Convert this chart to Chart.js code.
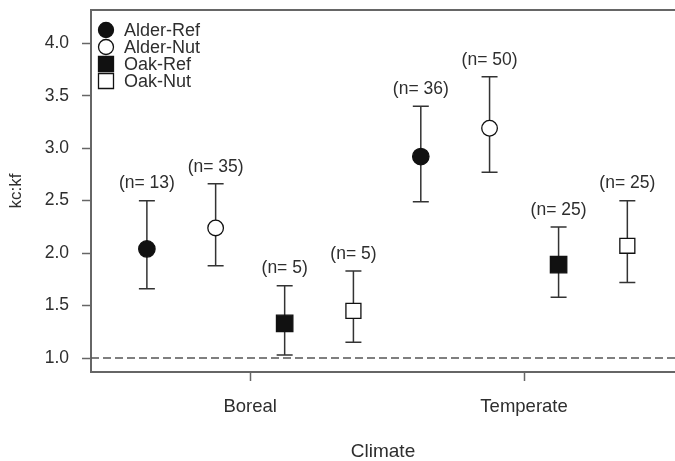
<!DOCTYPE html>
<html>
<head>
<meta charset="utf-8">
<script src="https://cdn.jsdelivr.net/npm/chart.js@4/dist/chart.umd.min.js"></script>
<style>
  html, body { margin: 0; padding: 0; background: #fff; }
  #wrap { width: 675px; height: 461px; }
</style>
</head>
<body>
<div id="wrap"><canvas id="chart"></canvas></div>
<script>
// climate groups on the x axis
const categories = ["Boreal", "Temperate"];
const seriesNames = ["Alder-Ref", "Alder-Nut", "Oak-Ref", "Oak-Nut"];

// mean kc:kf per climate
const alderRefMean = [2.04, 2.92];
const alderNutMean = [2.24, 3.19];
const oakRefMean = [1.33, 1.89];
const oakNutMean = [1.45, 2.07];

// upper / lower whisker ends
const alderRefHigh = [2.50, 3.40];
const alderNutHigh = [2.66, 3.68];
const oakRefHigh = [1.69, 2.25];
const oakNutHigh = [1.83, 2.50];

const alderRefLow = [1.66, 2.49];
const alderNutLow = [1.88, 2.77];
const oakRefLow = [1.03, 1.58];
const oakNutLow = [1.15, 1.72];

// sample sizes
const alderRefN = [13, 36];
const alderNutN = [35, 50];
const oakRefN = [5, 25];
const oakNutN = [5, 25];

const yTicks = [1.0, 1.5, 2.0, 2.5, 3.0, 3.5, 4.0];
const refLine = 1.0;

const means = [alderRefMean, alderNutMean, oakRefMean, oakNutMean];
const highs = [alderRefHigh, alderNutHigh, oakRefHigh, oakNutHigh];
const lows = [alderRefLow, alderNutLow, oakRefLow, oakNutLow];
const counts = [alderRefN, alderNutN, oakRefN, oakNutN];

// styling
const dodge = [-0.377, -0.126, 0.126, 0.377];
const shapes = ["circle", "circle", "rect", "rect"];
const fills = ["#111", "#fff", "#111", "#fff"];
const radii = [8.2, 7.8, 11.6, 10.6];
const ink = "#2e2e2e";
const axisGrey = "#666";
const font = "Liberation Sans, Arial, sans-serif";

const datasets = seriesNames.map((name, s) => ({
  label: name,
  data: categories.map((c, i) => ({ x: i + 1 + dodge[s], y: means[s][i] })),
  pointStyle: shapes[s],
  pointRadius: radii[s],
  pointHoverRadius: radii[s],
  backgroundColor: fills[s],
  borderColor: "#111",
  pointBorderWidth: 1.3,
  showLine: false,
}));

const errorBars = {
  id: "errorBars",
  beforeDatasetsDraw(chart) {
    const { ctx, scales: { x, y }, chartArea } = chart;
    ctx.save();
    // reference line
    ctx.strokeStyle = "#555";
    ctx.lineWidth = 1.5;
    ctx.setLineDash([8, 4]);
    ctx.beginPath();
    ctx.moveTo(chartArea.left, y.getPixelForValue(refLine));
    ctx.lineTo(chartArea.right, y.getPixelForValue(refLine));
    ctx.stroke();
    ctx.setLineDash([]);

    ctx.strokeStyle = "#333";
    ctx.lineWidth = 1.5;
    ctx.fillStyle = ink;
    ctx.font = "17.5px " + font;
    ctx.textAlign = "center";
    ctx.textBaseline = "middle";
    seriesNames.forEach((name, s) => {
      categories.forEach((c, i) => {
        const px = x.getPixelForValue(i + 1 + dodge[s]);
        const top = y.getPixelForValue(highs[s][i]);
        const bot = y.getPixelForValue(lows[s][i]);
        ctx.beginPath();
        ctx.moveTo(px, top); ctx.lineTo(px, bot);
        ctx.moveTo(px - 8, top); ctx.lineTo(px + 8, top);
        ctx.moveTo(px - 8, bot); ctx.lineTo(px + 8, bot);
        ctx.stroke();
        ctx.fillText("(n= " + counts[s][i] + ")", px, top - 17);
      });
    });
    ctx.restore();
  },
  afterDraw(chart) {
    const { ctx, chartArea } = chart;
    ctx.save();
    // top border of the box
    ctx.strokeStyle = axisGrey;
    ctx.lineWidth = 2;
    ctx.beginPath();
    ctx.moveTo(chartArea.left, chartArea.top);
    ctx.lineTo(chartArea.right, chartArea.top);
    ctx.stroke();
    // legend inside the plot
    ctx.font = "18px " + font;
    ctx.textAlign = "left";
    ctx.textBaseline = "middle";
    seriesNames.forEach((name, s) => {
      const ly = 30 + s * 17;
      const lx = 106;
      ctx.fillStyle = fills[s];
      ctx.strokeStyle = "#111";
      ctx.lineWidth = 1.3;
      ctx.beginPath();
      if (shapes[s] === "circle") {
        ctx.arc(lx, ly, 7.5, 0, Math.PI * 2);
      } else {
        ctx.rect(lx - 7.5, ly - 7.5, 15, 15);
      }
      ctx.fill();
      ctx.stroke();
      ctx.fillStyle = ink;
      ctx.fillText(name, 124, ly + 1);
    });
    ctx.restore();
  },
};

new Chart(document.getElementById("chart"), {
  type: "scatter",
  data: { datasets },
  options: {
    responsive: true,
    maintainAspectRatio: false,
    animation: false,
    layout: { autoPadding: false, padding: { top: 10, right: 0, left: 0, bottom: 0 } },
    plugins: { legend: { display: false }, tooltip: { enabled: false } },
    scales: {
      x: {
        type: "linear",
        min: 0.419,
        max: 2.551,
        afterBuildTicks: (axis) => { axis.ticks = categories.map((c, i) => ({ value: i + 1 })); },
        afterFit: (axis) => { axis.height = 89; axis.paddingLeft = 0; axis.paddingRight = 0; },
        ticks: {
          callback: (v) => categories[v - 1],
          color: ink,
          font: { family: font, size: 18.5 },
          padding: 15,
          maxRotation: 0,
        },
        grid: { drawOnChartArea: false, drawTicks: true, tickLength: 9, tickColor: axisGrey, tickWidth: 1.5 },
        border: { color: axisGrey, width: 2 },
        title: { display: true, text: "Climate", color: ink, font: { family: font, size: 19, lineHeight: 1 }, padding: { top: 0, bottom: 0 } },
      },
      y: {
        min: 0.867,
        max: 4.317,
        afterBuildTicks: (axis) => { axis.ticks = yTicks.map((v) => ({ value: v })); },
        afterFit: (axis) => { axis.width = 91; axis.paddingTop = 0; axis.paddingBottom = 0; },
        ticks: {
          callback: (v) => v.toFixed(1),
          color: ink,
          font: { family: font, size: 17.5 },
          padding: 13,
        },
        grid: { drawOnChartArea: false, drawTicks: true, tickLength: 9, tickColor: axisGrey, tickWidth: 1.5 },
        border: { color: axisGrey, width: 2 },
        title: { display: true, text: "kc:kf", color: ink, font: { family: font, size: 17, lineHeight: 1 }, padding: { top: 8, bottom: 0 } },
      },
    },
  },
  plugins: [errorBars],
});
</script>
</body>
</html>
